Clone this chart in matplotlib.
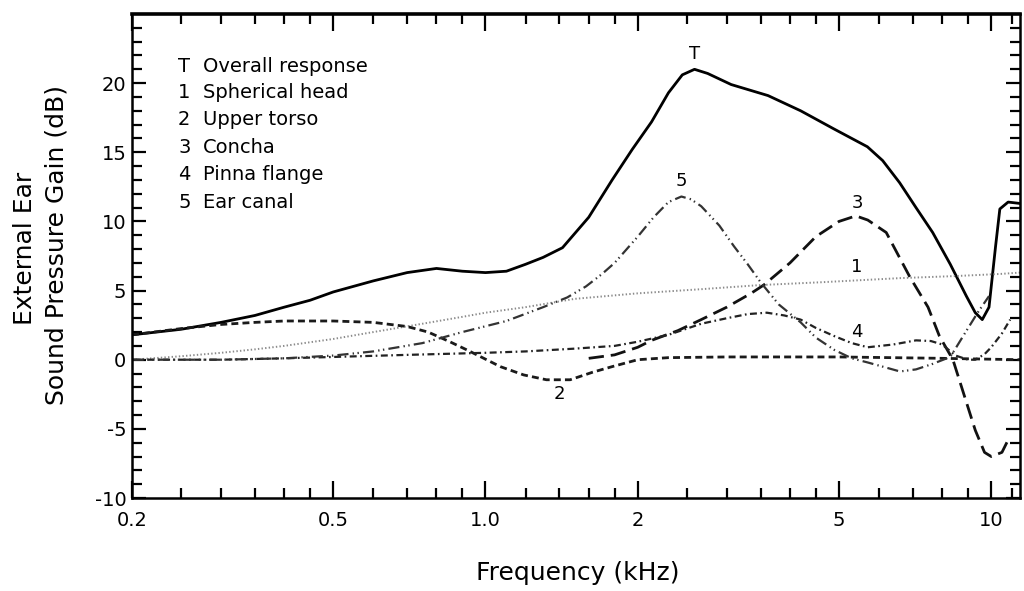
import matplotlib
matplotlib.use("Agg")
import matplotlib.pyplot as plt
from matplotlib.ticker import NullFormatter

plt.rcParams['font.family'] = ['DejaVu Sans']
plt.rcParams['lines.scale_dashes'] = False

# ---- data (frequency in kHz, gain in dB) ----
t_freq = [0.2, 0.25, 0.3, 0.35, 0.4, 0.45, 0.5, 0.6, 0.7, 0.8, 0.9, 1.0, 1.1, 1.2, 1.3, 1.42,
          1.6, 1.78, 1.95, 2.13, 2.3, 2.45, 2.59, 2.75, 3.06, 3.62, 4.2, 4.88, 5.69, 6.1, 6.59,
          7.1, 7.66, 8.3, 8.93, 9.3, 9.6, 9.9, 10.2, 10.4, 10.8, 11.4]
t_gain = [1.8, 2.2, 2.7, 3.2, 3.8, 4.3, 4.9, 5.7, 6.3, 6.6, 6.4, 6.3, 6.4, 6.9, 7.4, 8.1,
          10.3, 13.0, 15.2, 17.2, 19.3, 20.6, 21.0, 20.7, 19.9, 19.1, 18.0, 16.7, 15.4, 14.4, 12.8,
          11.0, 9.2, 6.9, 4.6, 3.4, 2.9, 3.8, 8.2, 10.9, 11.4, 11.3]

head_freq = [0.2, 0.25, 0.3, 0.35, 0.4, 0.5, 0.6, 0.75, 0.9, 1.0, 1.2, 1.5, 2.0, 2.67, 3.5,
             4.6, 6.6, 8.5, 10.4, 11.4]
head_gain = [0.0, 0.25, 0.5, 0.75, 1.0, 1.5, 2.0, 2.6, 3.1, 3.4, 3.8, 4.4, 4.8, 5.1, 5.4,
             5.6, 5.9, 6.05, 6.2, 6.3]

torso_freq = [0.2, 0.25, 0.3, 0.35, 0.4, 0.5, 0.6, 0.7, 0.77, 0.85, 0.92, 0.98, 1.07, 1.19,
              1.32, 1.47, 1.63, 1.78, 2.0, 2.3, 3.0, 5.0, 8.0, 11.4]
torso_gain = [1.8, 2.25, 2.55, 2.7, 2.8, 2.8, 2.7, 2.4, 2.0, 1.3, 0.7, 0.2, -0.5, -1.1,
              -1.45, -1.45, -0.9, -0.5, 0.0, 0.15, 0.2, 0.2, 0.1, 0.0]

concha_freq = [1.6, 1.8, 2.0, 2.13, 2.4, 2.67, 3.0, 3.35, 3.55, 4.0, 4.5, 5.0, 5.4, 5.7, 6.2,
               6.9, 7.5, 7.9, 8.4, 8.9, 9.3, 9.7, 10.0, 10.5, 10.8]
concha_gain = [0.1, 0.35, 0.9, 1.4, 2.1, 2.9, 3.8, 4.8, 5.4, 7.0, 8.9, 10.0, 10.4, 10.1, 9.2,
               6.0, 3.8, 1.7, 0.0, -2.9, -5.1, -6.7, -7.0, -6.7, -5.8]

pinna_freq = [0.2, 0.3, 0.4, 0.5, 0.7, 1.0, 1.2, 1.5, 1.8, 2.0, 2.3, 2.67, 3.0, 3.3, 3.6, 3.9,
              4.2, 4.5, 4.9, 5.3, 5.7, 6.4, 7.1, 7.6, 8.0, 8.5, 9.0, 9.3, 9.7, 10.0, 10.5, 10.9]
pinna_gain = [0.0, 0.0, 0.1, 0.2, 0.35, 0.5, 0.6, 0.8, 1.0, 1.3, 1.8, 2.6, 3.0, 3.3, 3.4, 3.2,
              2.9, 2.3, 1.7, 1.2, 0.9, 1.1, 1.4, 1.35, 1.1, 0.3, 0.0, 0.0, 0.4, 0.9, 1.9, 2.9]

canal_freq = [0.2, 0.3, 0.4, 0.5, 0.6, 0.75, 0.9, 1.1, 1.3, 1.45, 1.58, 1.7, 1.8, 2.0, 2.15,
              2.3, 2.44, 2.55, 2.67, 2.9, 3.1, 3.3, 3.5, 3.8, 4.2, 4.5, 4.9, 5.3, 5.7, 6.1,
              6.6, 7.1, 7.66, 8.3, 8.9, 9.4, 9.9]
canal_gain = [0.0, 0.0, 0.1, 0.3, 0.6, 1.2, 2.0, 2.8, 3.8, 4.5, 5.3, 6.2, 7.0, 8.9, 10.3,
              11.4, 11.8, 11.6, 11.1, 9.7, 8.2, 6.9, 5.6, 4.0, 2.7, 1.6, 0.7, 0.1, -0.2, -0.5,
              -0.85, -0.7, -0.3, 0.2, 2.0, 3.4, 4.6]

legend_keys = ["T", "1", "2", "3", "4", "5"]
legend_names = ["Overall response", "Spherical head", "Upper torso", "Concha",
                "Pinna flange", "Ear canal"]

x_major = [0.2, 0.5, 1.0, 2, 5, 10]
x_major_labels = ["0.2", "0.5", "1.0", "2", "5", "10"]
x_minor = [0.25, 0.3, 0.35, 0.4, 0.45, 0.6, 0.7, 0.8, 0.9, 1.2, 1.4, 1.6, 1.8,
           2.5, 3, 3.5, 4, 4.5, 6, 7, 8, 9, 11]
y_major = [-10, -5, 0, 5, 10, 15, 20]
y_major_labels = ["-10", "-5", "0", "5", "10", "15", "20"]

# ---- figure ----
W, H = 1024, 591
fig = plt.figure(figsize=(W / 100, H / 100), dpi=100)
ax = fig.add_axes([132 / W, 1 - 498 / H, (1020 - 132) / W, (498 - 14) / H])

ax.plot(t_freq, t_gain, color='black', lw=2.0, solid_capstyle='round')
ax.plot(head_freq, head_gain, color='#8a8a8a', lw=1.4, dashes=(1.0, 1.6))
ax.plot(torso_freq, torso_gain, color='#1a1a1a', lw=2.0, dashes=(5, 3))
ax.plot(concha_freq, concha_gain, color='#111111', lw=2.0, dashes=(11, 5))
ax.plot(pinna_freq, pinna_gain, color='#222222', lw=1.6, dashes=(5, 2.5, 1.2, 2.5))
ax.plot(canal_freq, canal_gain, color='#333333', lw=1.6, dashes=(8, 3, 1.0, 2.5, 1.0, 3))

ax.set_xscale('log')
ax.set_xlim(0.2, 11.4)
ax.set_ylim(-10, 25)
ax.set_xticks(x_major)
ax.set_xticklabels(x_major_labels, fontsize=14)
ax.set_xticks(x_minor, minor=True)
ax.xaxis.set_minor_formatter(NullFormatter())
ax.set_yticks(y_major)
ax.set_yticklabels(y_major_labels, fontsize=14)
ax.set_yticks(range(-10, 25), minor=True)

ax.tick_params(which='both', direction='in', top=True, right=True, width=1.6, colors='black')
ax.tick_params(axis='x', which='major', length=12, pad=9)
ax.tick_params(axis='x', which='minor', length=7)
ax.tick_params(axis='y', which='major', length=10, pad=4)
ax.tick_params(axis='y', which='minor', length=7)
for s in ax.spines.values():
    s.set_linewidth(1.8)
ax.spines['top'].set_linewidth(2.6)

# curve labels
ax.text(2.59, 22.1, "T", fontsize=13, ha='center', va='center')
ax.text(2.44, 12.9, "5", fontsize=13, ha='center', va='center')
ax.text(5.43, 11.3, "3", fontsize=13, ha='center', va='center')
ax.text(5.43, 6.7, "1", fontsize=13, ha='center', va='center')
ax.text(5.43, 2.0, "4", fontsize=13, ha='center', va='center')
ax.text(1.40, -2.5, "2", fontsize=13, ha='center', va='center')

# key text
ys = [66, 93, 120, 148, 175, 202]
for k, name, y in zip(legend_keys, legend_names, ys):
    fig.text(178 / W, 1 - y / H, k, fontsize=14, ha='left', va='center')
    fig.text(203 / W, 1 - y / H, name, fontsize=14, ha='left', va='center')

# axis labels
fig.text(25 / W, 1 - 248 / H, "External Ear", rotation=90, fontsize=18,
         ha='center', va='center')
fig.text(57 / W, 1 - 245 / H, "Sound Pressure Gain (dB)", rotation=90, fontsize=18,
         ha='center', va='center')
fig.text(578 / W, 1 - 573 / H, "Frequency (kHz)", fontsize=18, ha='center', va='center')

fig.savefig("out.png", dpi=100)
